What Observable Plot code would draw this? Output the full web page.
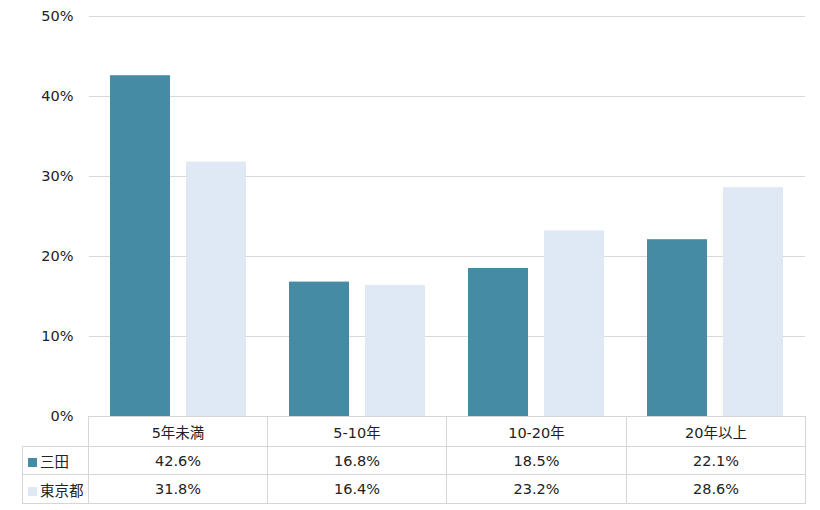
<!DOCTYPE html>
<html>
<head>
<meta charset="utf-8">
<script src="https://cdn.jsdelivr.net/npm/d3@7"></script>
<script src="https://cdn.jsdelivr.net/npm/@observablehq/plot@0.6"></script>
<style>
  html, body { margin: 0; padding: 0; background: #fff; }
  #wrap { position: relative; width: 820px; height: 510px; font-family: "DejaVu Sans", "Noto Sans CJK JP", sans-serif; color: #222; }
  #wrap svg { position: absolute; left: 0; top: 0; }
  table { position: absolute; left: 22px; top: 416px; border-collapse: collapse; table-layout: fixed; font-size: 14.5px; color: #222; }
  td { border: 1px solid #d6d6d6; text-align: center; padding: 0; white-space: nowrap; }
  td.blank { border-top: none; border-left: none; }
  td.lab { text-align: left; padding-left: 5px; }
  .sw { display: inline-block; width: 9px; height: 9px; margin-right: 3px; vertical-align: 0px; }
</style>
</head>
<body>
<div id="wrap"></div>
<script>
const categories = ["5年未満", "5-10年", "10-20年", "20年以上"];
const seriesNames = ["三田", "東京都"];
const mita = [42.6, 16.8, 18.5, 22.1];
const tokyo = [31.8, 16.4, 23.2, 28.6];
const colors = ["#458ba3", "#dee9f5"];
const yTicks = [0, 10, 20, 30, 40, 50];

const seriesValues = [mita, tokyo];
const data = categories.flatMap((c, i) =>
  seriesNames.map((s, j) => ({cat: c, series: s, value: seriesValues[j][i]})));

const chart = Plot.plot({
  width: 820,
  height: 510,
  marginTop: 16,
  marginBottom: 94,
  marginLeft: 88,
  marginRight: 15,
  style: {fontFamily: '"DejaVu Sans", "Noto Sans CJK JP", sans-serif', fontSize: "14px", color: "#222", background: "transparent"},
  fx: {domain: categories, padding: 0, axis: null},
  x: {domain: seriesNames, paddingInner: 0.21, paddingOuter: 0.27, axis: null},
  y: {domain: [0, 50], axis: null},
  color: {domain: seriesNames, range: colors},
  marks: [
    Plot.ruleY(yTicks.filter(d => d > 0), {stroke: "#d9d9d9"}),
    Plot.barY(data, {fx: "cat", x: "series", y: "value", fill: "series"}),
    Plot.axisY({ticks: yTicks, tickFormat: d => d + "%", tickSize: 0, tickPadding: 16, label: null, fontSize: 14.5})
  ]
});

const wrap = document.getElementById("wrap");
wrap.appendChild(chart);

// data table below the plot
const table = document.createElement("table");
const colgroup = document.createElement("colgroup");
const widths = [66, 179, 179, 180, 179];
widths.forEach(w => { const col = document.createElement("col"); col.style.width = w + "px"; colgroup.appendChild(col); });
table.appendChild(colgroup);

const head = document.createElement("tr");
head.style.height = "30px";
const blank = document.createElement("td");
blank.className = "blank";
head.appendChild(blank);
categories.forEach(c => { const td = document.createElement("td"); td.textContent = c; head.appendChild(td); });
table.appendChild(head);

const rowHeights = [28, 29];
seriesNames.forEach((s, j) => {
  const tr = document.createElement("tr");
  tr.style.height = rowHeights[j] + "px";
  const lab = document.createElement("td");
  lab.className = "lab";
  const sw = document.createElement("span");
  sw.className = "sw";
  sw.style.background = colors[j];
  lab.appendChild(sw);
  lab.appendChild(document.createTextNode(s));
  tr.appendChild(lab);
  seriesValues[j].forEach(v => { const td = document.createElement("td"); td.textContent = v.toFixed(1) + "%"; tr.appendChild(td); });
  table.appendChild(tr);
});
wrap.appendChild(table);
</script>
</body>
</html>
